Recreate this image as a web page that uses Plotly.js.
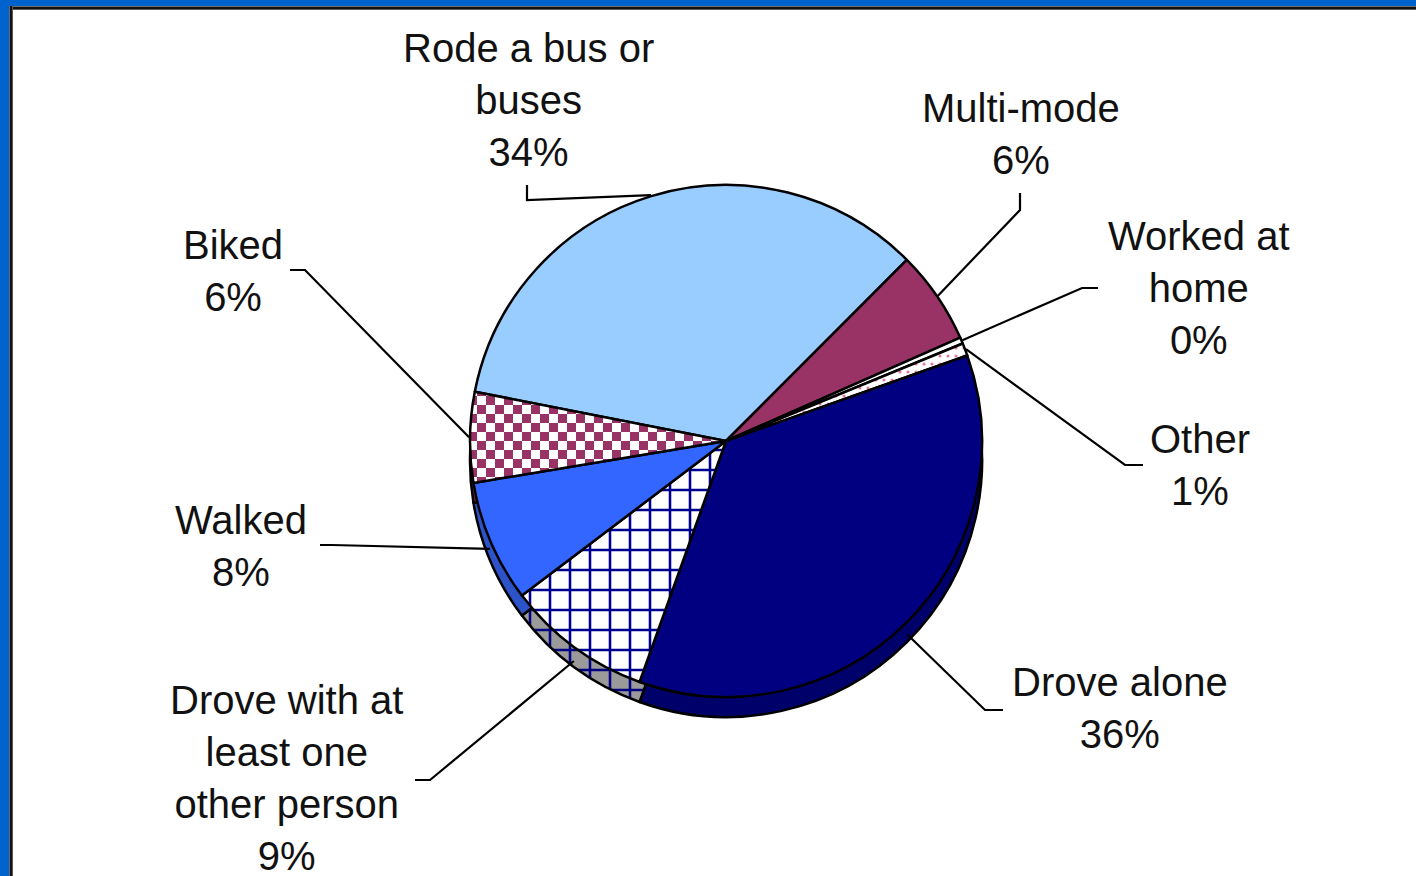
<!DOCTYPE html>
<html>
<head>
<meta charset="utf-8">
<script src="https://cdn.plot.ly/plotly-3.0.1.min.js"></script>
<style>
html,body{margin:0;padding:0;background:#ffffff;overflow:hidden;}
#chart{position:absolute;left:0;top:0;width:1416px;height:876px;}
.frame{position:absolute;pointer-events:none;}
</style>
</head>
<body>
<div id="chart"></div>
<div class="frame" style="left:0;top:0;width:1416px;height:6px;background:#0062cc"></div>
<div class="frame" style="left:0;top:0;width:9px;height:876px;background:#0062cc"></div>
<div class="frame" style="left:9px;top:6px;width:1407px;height:4px;background:linear-gradient(#a0a0a0,#111 35%,#111 70%,#909090)"></div>
<div class="frame" style="left:9px;top:6px;width:4px;height:870px;background:linear-gradient(90deg,#a0a0a0,#111 35%,#111 70%,#909090)"></div>
<script>
// ---- data ----
var categories = [
  "Rode a bus or\nbuses",
  "Multi-mode",
  "Worked at\nhome",
  "Other",
  "Drove alone",
  "Drove with at\nleast one\nother person",
  "Walked",
  "Biked"
];
var shares = [34.4, 5.9, 0.4, 0.8, 35.9, 9.2, 7.7, 5.7];

// ---- styles ----
var faceColors = ['#99ccff', '#993366', '#ffffff', '#ffffff', '#000080', '#ffffff', '#3366ff', '#ffffff'];
var sideColors = ['#6f9fd8', '#6b2347', '#dddddd', '#dddddd', '#00006a', '#9a9a9a', '#2d53c8', '#6b2347'];
var faceShapes = ['', '', '', '.', '', '+', '', '+'];
var faceFg = ['#000', '#000', '#000', '#e07aa5', '#000', '#000090', '#000', '#993366'];
var faceBg = ['#fff', '#fff', '#fff', '#ffffff', '#fff', '#ffffff', '#fff', '#ffffff'];
var faceSize = [8, 8, 8, 8, 8, 20, 8, 18];
var faceSolid = [0.3, 0.3, 0.3, 0.12, 0.3, 0.24, 0.3, 0.5];
var sideShapes = ['', '', '', '', '', '+', '', ''];
var sideFg = ['#000', '#000', '#000', '#000', '#000', '#000080', '#000', '#000'];
var sideBg = ['#fff', '#fff', '#fff', '#fff', '#fff', '#9a9a9a', '#fff', '#fff'];

// ---- layout geometry (pixels) ----
var W = 1416, H = 876;
var cx = 726, cy = 441, R = 256, depth = 20;
var rotationDeg = -78.9;
var labelPos = [[528, 100], [1021, 134], [1199, 288], [1200, 465], [1120, 708], [286, 778], [241, 546], [233, 271]];
var leaderPts = [
  [[527, 185], [527, 200]],
  [[1020, 193], [1020, 210]],
  [[1098, 288], [1082, 288]],
  [[1143, 465], [1125, 465]],
  [[1003, 710], [985, 710]],
  [[415, 780], [430, 780]],
  [[320, 545], [332, 545]],
  [[290, 270], [305, 270]]
];

function px2x(p) { return p / W; }
function px2y(p) { return 1 - p / H; }
function domainFor(centerY) {
  return {
    x: [(cx - R) / W, (cx + R) / W],
    y: [(H - centerY - R) / H, (H - centerY + R) / H]
  };
}

var plainLabels = categories.map(function (c) { return c.replace(/\n/g, ' '); });
var total = shares.reduce(function (a, b) { return a + b; }, 0);

var sidePie = {
  type: 'pie', values: shares, labels: plainLabels, sort: false, direction: 'clockwise',
  rotation: rotationDeg, textinfo: 'none', hoverinfo: 'none', showlegend: false,
  domain: domainFor(cy + depth),
  marker: {
    colors: sideColors,
    line: { color: '#000000', width: 2.5 },
    pattern: { shape: sideShapes, fgcolor: sideFg, bgcolor: sideBg, size: 20, solidity: 0.24 }
  }
};
var facePie = {
  type: 'pie', values: shares, labels: plainLabels, sort: false, direction: 'clockwise',
  rotation: rotationDeg, textinfo: 'none', hoverinfo: 'label+percent', showlegend: false,
  domain: domainFor(cy),
  marker: {
    colors: faceColors,
    line: { color: '#000000', width: 2.5 },
    pattern: { shape: faceShapes, fgcolor: faceFg, bgcolor: faceBg, size: faceSize, solidity: faceSolid }
  }
};

var annotations = [];
var shapes = [];
var cum = 0;
for (var i = 0; i < shares.length; i++) {
  var mid = (rotationDeg + 360 * (cum + shares[i] / 2) / total) * Math.PI / 180;
  cum += shares[i];
  var ax = cx + (R + 1) * Math.sin(mid);
  var ay = cy - (R + 1) * Math.cos(mid) + depth * Math.max(0, -Math.cos(mid)) * 0.8;
  var pct = Math.round(shares[i] / total * 100) + '%';
  annotations.push({
    xref: 'paper', yref: 'paper', x: px2x(labelPos[i][0]), y: px2y(labelPos[i][1]),
    xanchor: 'center', yanchor: 'middle', showarrow: false, align: 'center',
    text: categories[i].replace(/\n/g, '<br>') + '<br>' + pct,
    font: { family: 'Liberation Sans, Arial, sans-serif', size: 40, color: '#111111' }
  });
  var pts = leaderPts[i];
  var path = 'M' + px2x(pts[0][0]) + ',' + px2y(pts[0][1]) +
             ' L' + px2x(pts[1][0]) + ',' + px2y(pts[1][1]) +
             ' L' + px2x(ax) + ',' + px2y(ay);
  shapes.push({ type: 'path', xref: 'paper', yref: 'paper', path: path,
    line: { color: '#000000', width: 2.2 } });
}

var layout = {
  width: W, height: H,
  margin: { l: 0, r: 0, t: 0, b: 0 },
  paper_bgcolor: '#ffffff',
  showlegend: false,
  annotations: annotations,
  shapes: shapes
};

var gd = document.getElementById('chart');
Plotly.newPlot(gd, [sidePie, facePie], layout, { displayModeBar: false, staticPlot: true }).then(function () {
  try {
    var traces = gd.querySelectorAll('.pielayer g.trace');
    var t = traces[traces.length - 1];
    var paths = t.querySelectorAll('g.slice path.surface');
    var p = paths[7];
    var f = (p.style && p.style.fill) || p.getAttribute('fill') || '';
    var m = f.match(/#([^"')\s]+)/);
    if (!m) return;
    var pat = document.getElementById(m[1]);
    if (!pat) return;
    var s = 18, h = s / 2, ns = 'http://www.w3.org/2000/svg';
    while (pat.firstChild) pat.removeChild(pat.firstChild);
    pat.setAttribute('width', s);
    pat.setAttribute('height', s);
    [[0, 0, s, s, '#ffffff'], [0, 0, h, h, '#993366'], [h, h, h, h, '#993366']].forEach(function (r) {
      var el = document.createElementNS(ns, 'rect');
      el.setAttribute('x', r[0]); el.setAttribute('y', r[1]);
      el.setAttribute('width', r[2]); el.setAttribute('height', r[3]);
      el.setAttribute('fill', r[4]);
      pat.appendChild(el);
    });
  } catch (e) {}
});
</script>
</body>
</html>
